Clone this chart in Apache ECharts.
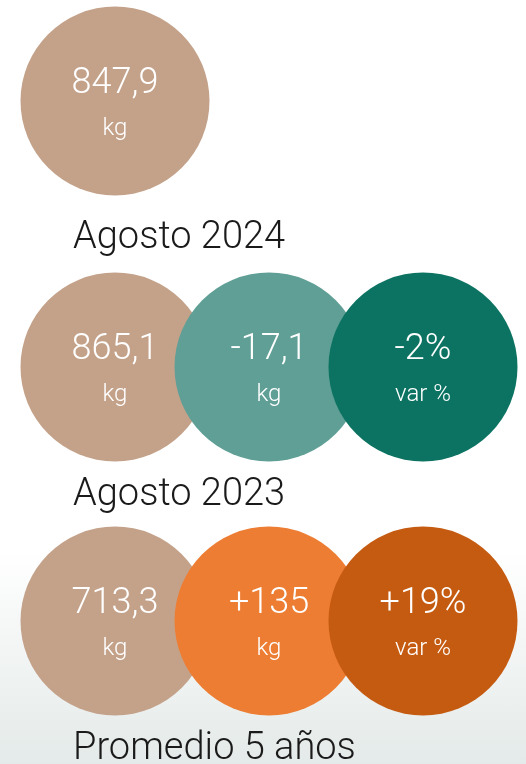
<!DOCTYPE html>
<html>
<head>
<meta charset="utf-8">
<script src="https://cdn.jsdelivr.net/npm/echarts@6/dist/echarts.min.js"></script>
<style>
  html, body { margin: 0; padding: 0; }
  body { background: linear-gradient(to bottom, #ffffff 0%, #ffffff 72%, #e4eae9 100%); }
  #chart { width: 526px; height: 764px; }
</style>
</head>
<body>
<div id="chart"></div>
<script>
// periodos (una fila por periodo)
const periodos = ['Agosto 2024', 'Agosto 2023', 'Promedio 5 años'];
// columnas: valor, diferencia vs agosto 2024, variación %
const metricas = ['valor', 'diferencia', 'variacion'];
const valorKg = [847.9, 865.1, 713.3];
const diferenciaKg = [null, -17.1, 135];
const variacionPct = [null, -2, 19];
const unidades = ['kg', 'kg', 'var %'];

const colorBase = '#c4a28a';
const coloresFila = [
    [colorBase],
    [colorBase, '#5f9f96', '#0c7362'],
    [colorBase, '#ed7d32', '#c55b11']
];

// centro vertical de cada fila y posición del título
const filaCentro = [101, 367, 621];
const tituloTop = [214, 471, 725];
const radio = 94.5;

function conSigno(v) {
    return (v > 0 ? '+' : '') + String(v).replace('.', ',');
}
function formato(col, v) {
    if (col === 0) return String(v).replace('.', ',');
    if (col === 1) return conSigno(v);
    return conSigno(v) + '%';
}

const chart = echarts.init(document.getElementById('chart'), null, {renderer: 'canvas'});

const grids = [], xAxes = [], yAxes = [], series = [], titles = [];
periodos.forEach((p, r) => {
    grids.push({left: 38, width: 462, top: filaCentro[r] - radio, height: radio * 2});
    xAxes.push({type: 'category', gridIndex: r, data: metricas, show: false, boundaryGap: true});
    yAxes.push({type: 'value', gridIndex: r, min: -1, max: 1, show: false});
    const cols = [valorKg[r], diferenciaKg[r], variacionPct[r]];
    const data = [];
    cols.forEach((v, c) => {
        if (v === null) return;
        data.push({
            value: [c, 0, v],
            itemStyle: {color: coloresFila[r][c]},
            label: {formatter: '{v|' + formato(c, v) + '}\n{u|' + unidades[c] + '}'}
        });
    });
    series.push({
        type: 'scatter',
        xAxisIndex: r,
        yAxisIndex: r,
        symbol: 'circle',
        symbolSize: radio * 2,
        silent: true,
        itemStyle: {opacity: 1},
        label: {
            show: true,
            position: 'inside',
            color: '#fff',
            fontFamily: 'Roboto',
            rich: {
                v: {fontSize: 36, fontWeight: 300, lineHeight: 56, color: '#fff', fontFamily: 'Roboto'},
                u: {fontSize: 24, fontWeight: 300, lineHeight: 34, color: '#fff', fontFamily: 'Roboto'}
            }
        },
        data: data
    });
    titles.push({
        text: p,
        left: 68,
        top: tituloTop[r],
        textStyle: {fontSize: 38, fontWeight: 300, color: '#1a1a1a', fontFamily: 'Roboto'}
    });
});

chart.setOption({
    animation: false,
    backgroundColor: 'transparent',
    title: titles,
    grid: grids,
    xAxis: xAxes,
    yAxis: yAxes,
    series: series
});
</script>
</body>
</html>
